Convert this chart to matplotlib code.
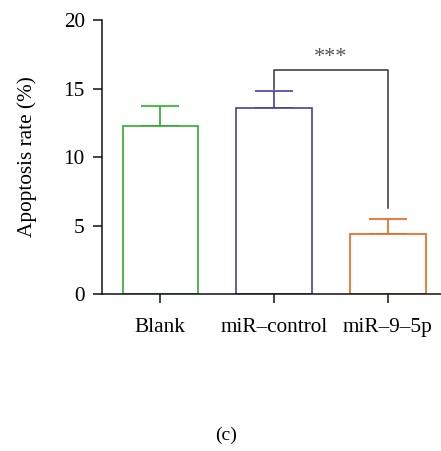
import matplotlib
matplotlib.use("Agg")
import matplotlib.pyplot as plt

categories = ["Blank", "miR\u2013control", "miR\u20139\u20135p"]
means = [12.25, 13.6, 4.35]
errors = [1.45, 1.25, 1.1]
colors = ["#2eae2e", "#42429c", "#e8661c"]
yticks = [0, 5, 10, 15, 20]
sig_label = "***"
sig_pair = (1, 2)
sig_levels = (15.0, 16.35, 6.3)

plt.rcParams['font.family'] = ['Liberation Serif', 'DejaVu Serif']

fig = plt.figure(figsize=(4.41, 4.51), dpi=100)
ax = fig.add_axes([0.2313, 0.348, 0.77, 0.6075])

x = list(range(len(categories)))
ax.bar(x, means, width=0.66, facecolor="white", edgecolor=colors, linewidth=1.2, zorder=2)
for xi, m, e, c in zip(x, means, errors, colors):
    ax.errorbar([xi], [m], yerr=[[0], [e]], fmt="none", ecolor=c, elinewidth=1.2,
                capsize=13.7, capthick=1.2, zorder=1)

a, b = sig_pair
l1, top, l2 = sig_levels
ax.plot([a, a, b, b], [l1, top, top, l2], color="#333333", linewidth=1.1, zorder=3)
ax.text((a + b) / 2, 17.3, sig_label, ha="center", va="center", fontsize=16, color="#555555")

ax.set_xlim(-0.51, 2.47)
ax.set_ylim(0, 20)
ax.set_yticks(yticks)
ax.set_xticks(x)
ax.set_xticklabels(categories)
ax.set_ylabel("Apoptosis rate (%)", fontsize=15.3, labelpad=19)
for s in ["top", "right"]:
    ax.spines[s].set_visible(False)
for s in ["left", "bottom"]:
    ax.spines[s].set_linewidth(1.1)
    ax.spines[s].set_color("#111111")
ax.tick_params(axis="both", direction="out", length=6.5, width=1.1, color="#111111", labelsize=15.3)
ax.tick_params(axis="y", pad=6)
ax.tick_params(axis="x", pad=11)

fig.text(226 / 441, 1 - 435 / 451, "(c)", ha="center", va="center", fontsize=14)

fig.savefig("out.png", dpi=100)
